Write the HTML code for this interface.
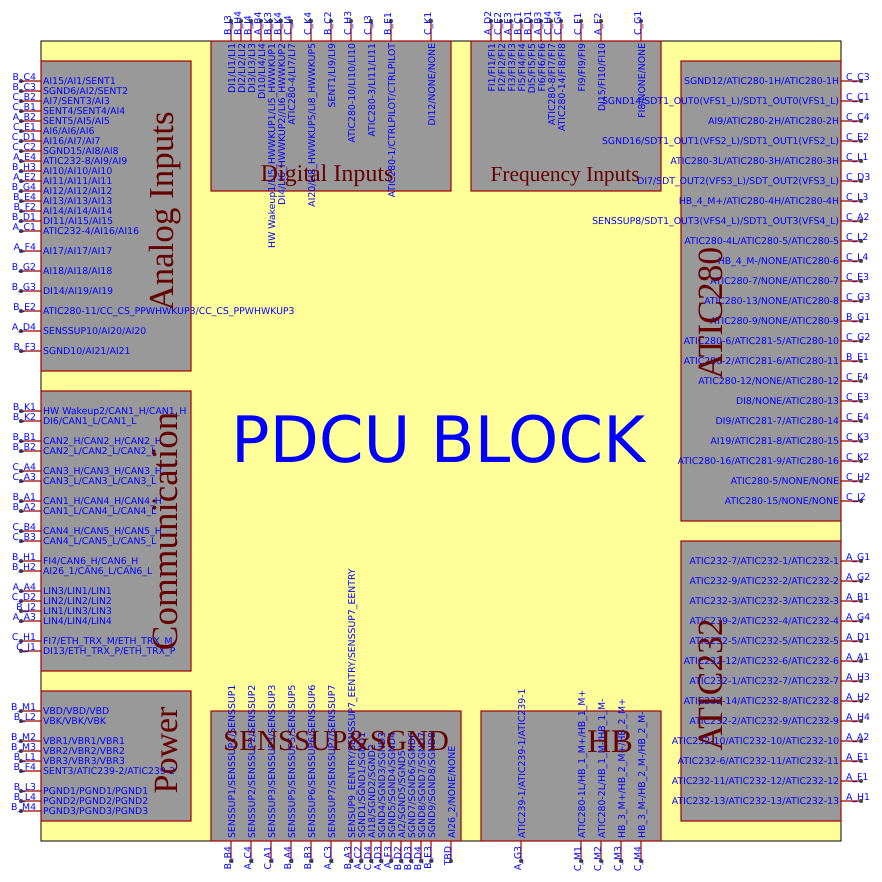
<!DOCTYPE html>
<html>
<head>
<meta charset="utf-8">
<style>
html,body{margin:0;padding:0;background:#fff;width:882px;height:882px;overflow:hidden}
svg{display:block}
.b{fill:#999;stroke:#a00000;stroke-width:1.2}
.w{stroke:#990000;stroke-width:1.2}
.d{fill:#444}
text{font-family:"DejaVu Sans",sans-serif;font-size:9.33px;fill:#0000ff;text-rendering:geometricPrecision}
.l text{text-anchor:end}
.big{font-family:"Liberation Serif",serif;fill:#660000;text-anchor:middle}
</style>
</head>
<body>
<svg width="882" height="882" viewBox="0 0 882 882" xmlns="http://www.w3.org/2000/svg">
<rect x="41" y="41" width="800" height="800" fill="#ffff99" stroke="#000" stroke-width="1"/>
<rect class="b" x="41" y="61" width="150" height="310"/>
<rect class="b" x="41" y="391" width="150" height="280"/>
<rect class="b" x="41" y="691" width="150" height="130"/>
<rect class="b" x="211" y="41" width="240" height="150"/>
<rect class="b" x="471" y="41" width="190" height="150"/>
<rect class="b" x="681" y="61" width="160" height="460"/>
<rect class="b" x="681" y="541" width="160" height="280"/>
<rect class="b" x="211" y="711" width="250" height="130"/>
<rect class="b" x="481" y="711" width="180" height="130"/>

<path class="w" fill="none" d="M21 81H41M21 91H41M21 101H41M21 111H41M21 121H41M21 131H41M21 141H41M21 151H41M21 161H41M21 171H41M21 181H41M21 191H41M21 201H41M21 211H41M21 221H41M21 231H41M21 251H41M21 271H41M21 291H41M21 311H41M21 331H41M21 351H41
M21 411H41M21 421H41M21 441H41M21 451H41M21 471H41M21 481H41M21 501H41M21 511H41M21 531H41M21 541H41M21 561H41M21 571H41M21 591H41M21 601H41M21 611H41M21 621H41M21 641H41M21 651H41
M21 711H41M21 721H41M21 741H41M21 751H41M21 761H41M21 771H41M21 791H41M21 801H41M21 811H41
M841 81H861M841 101H861M841 121H861M841 141H861M841 161H861M841 181H861M841 201H861M841 221H861M841 241H861M841 261H861M841 281H861M841 301H861M841 321H861M841 341H861M841 361H861M841 381H861M841 401H861M841 421H861M841 441H861M841 461H861M841 481H861M841 501H861
M841 561H861M841 581H861M841 601H861M841 621H861M841 641H861M841 661H861M841 681H861M841 701H861M841 721H861M841 741H861M841 761H861M841 781H861M841 801H861
M231 21V41M241 21V41M251 21V41M261 21V41M271 21V41M281 21V41M291 21V41M311 21V41M331 21V41M351 21V41M371 21V41M391 21V41M431 21V41
M491 21V41M501 21V41M511 21V41M521 21V41M531 21V41M541 21V41M551 21V41M561 21V41M581 21V41M601 21V41M641 21V41
M231 841V861M251 841V861M271 841V861M291 841V861M311 841V861M331 841V861M351 841V861M361 841V861M371 841V861M381 841V861M391 841V861M401 841V861M411 841V861M421 841V861M431 841V861M451 841V861
M521 841V861M581 841V861M601 841V861M621 841V861M641 841V861"/>

<g class="d">
<circle cx="21" cy="81" r="2"/><circle cx="21" cy="91" r="2"/><circle cx="21" cy="101" r="2"/><circle cx="21" cy="111" r="2"/><circle cx="21" cy="121" r="2"/><circle cx="21" cy="131" r="2"/><circle cx="21" cy="141" r="2"/><circle cx="21" cy="151" r="2"/><circle cx="21" cy="161" r="2"/><circle cx="21" cy="171" r="2"/><circle cx="21" cy="181" r="2"/><circle cx="21" cy="191" r="2"/><circle cx="21" cy="201" r="2"/><circle cx="21" cy="211" r="2"/><circle cx="21" cy="221" r="2"/><circle cx="21" cy="231" r="2"/><circle cx="21" cy="251" r="2"/><circle cx="21" cy="271" r="2"/><circle cx="21" cy="291" r="2"/><circle cx="21" cy="311" r="2"/><circle cx="21" cy="331" r="2"/><circle cx="21" cy="351" r="2"/>
<circle cx="21" cy="411" r="2"/><circle cx="21" cy="421" r="2"/><circle cx="21" cy="441" r="2"/><circle cx="21" cy="451" r="2"/><circle cx="21" cy="471" r="2"/><circle cx="21" cy="481" r="2"/><circle cx="21" cy="501" r="2"/><circle cx="21" cy="511" r="2"/><circle cx="21" cy="531" r="2"/><circle cx="21" cy="541" r="2"/><circle cx="21" cy="561" r="2"/><circle cx="21" cy="571" r="2"/><circle cx="21" cy="591" r="2"/><circle cx="21" cy="601" r="2"/><circle cx="21" cy="611" r="2"/><circle cx="21" cy="621" r="2"/><circle cx="21" cy="641" r="2"/><circle cx="21" cy="651" r="2"/>
<circle cx="21" cy="711" r="2"/><circle cx="21" cy="721" r="2"/><circle cx="21" cy="741" r="2"/><circle cx="21" cy="751" r="2"/><circle cx="21" cy="761" r="2"/><circle cx="21" cy="771" r="2"/><circle cx="21" cy="791" r="2"/><circle cx="21" cy="801" r="2"/><circle cx="21" cy="811" r="2"/>
<circle cx="861" cy="81" r="2"/><circle cx="861" cy="101" r="2"/><circle cx="861" cy="121" r="2"/><circle cx="861" cy="141" r="2"/><circle cx="861" cy="161" r="2"/><circle cx="861" cy="181" r="2"/><circle cx="861" cy="201" r="2"/><circle cx="861" cy="221" r="2"/><circle cx="861" cy="241" r="2"/><circle cx="861" cy="261" r="2"/><circle cx="861" cy="281" r="2"/><circle cx="861" cy="301" r="2"/><circle cx="861" cy="321" r="2"/><circle cx="861" cy="341" r="2"/><circle cx="861" cy="361" r="2"/><circle cx="861" cy="381" r="2"/><circle cx="861" cy="401" r="2"/><circle cx="861" cy="421" r="2"/><circle cx="861" cy="441" r="2"/><circle cx="861" cy="461" r="2"/><circle cx="861" cy="481" r="2"/><circle cx="861" cy="501" r="2"/>
<circle cx="861" cy="561" r="2"/><circle cx="861" cy="581" r="2"/><circle cx="861" cy="601" r="2"/><circle cx="861" cy="621" r="2"/><circle cx="861" cy="641" r="2"/><circle cx="861" cy="661" r="2"/><circle cx="861" cy="681" r="2"/><circle cx="861" cy="701" r="2"/><circle cx="861" cy="721" r="2"/><circle cx="861" cy="741" r="2"/><circle cx="861" cy="761" r="2"/><circle cx="861" cy="781" r="2"/><circle cx="861" cy="801" r="2"/>
<circle cx="231" cy="21" r="2"/><circle cx="241" cy="21" r="2"/><circle cx="251" cy="21" r="2"/><circle cx="261" cy="21" r="2"/><circle cx="271" cy="21" r="2"/><circle cx="281" cy="21" r="2"/><circle cx="291" cy="21" r="2"/><circle cx="311" cy="21" r="2"/><circle cx="331" cy="21" r="2"/><circle cx="351" cy="21" r="2"/><circle cx="371" cy="21" r="2"/><circle cx="391" cy="21" r="2"/><circle cx="431" cy="21" r="2"/>
<circle cx="491" cy="21" r="2"/><circle cx="501" cy="21" r="2"/><circle cx="511" cy="21" r="2"/><circle cx="521" cy="21" r="2"/><circle cx="531" cy="21" r="2"/><circle cx="541" cy="21" r="2"/><circle cx="551" cy="21" r="2"/><circle cx="561" cy="21" r="2"/><circle cx="581" cy="21" r="2"/><circle cx="601" cy="21" r="2"/><circle cx="641" cy="21" r="2"/>
<circle cx="231" cy="861" r="2"/><circle cx="251" cy="861" r="2"/><circle cx="271" cy="861" r="2"/><circle cx="291" cy="861" r="2"/><circle cx="311" cy="861" r="2"/><circle cx="331" cy="861" r="2"/><circle cx="351" cy="861" r="2"/><circle cx="361" cy="861" r="2"/><circle cx="371" cy="861" r="2"/><circle cx="381" cy="861" r="2"/><circle cx="391" cy="861" r="2"/><circle cx="401" cy="861" r="2"/><circle cx="411" cy="861" r="2"/><circle cx="421" cy="861" r="2"/><circle cx="431" cy="861" r="2"/><circle cx="451" cy="861" r="2"/>
<circle cx="521" cy="861" r="2"/><circle cx="581" cy="861" r="2"/><circle cx="601" cy="861" r="2"/><circle cx="621" cy="861" r="2"/><circle cx="641" cy="861" r="2"/>
</g>
<circle cx="154" cy="451" r="1.5" fill="#660000"/><circle cx="154" cy="501" r="1.5" fill="#660000"/>

<!-- left outer labels -->
<g class="l">
<text x="36" y="80">B_C4</text><text x="36" y="90">B_C3</text><text x="36" y="100">C_B2</text><text x="36" y="110">C_B1</text><text x="36" y="120">A_B2</text><text x="36" y="130">C_E1</text><text x="36" y="140">C_D1</text><text x="36" y="150">C_C2</text><text x="36" y="160">A_E4</text><text x="36" y="170">B_H3</text><text x="36" y="180">A_E2</text><text x="36" y="190">B_G4</text><text x="36" y="200">B_E4</text><text x="36" y="210">B_F2</text><text x="36" y="220">B_D1</text><text x="36" y="230">A_C1</text><text x="36" y="250">A_F4</text><text x="36" y="270">B_G2</text><text x="36" y="290">B_G3</text><text x="36" y="310">B_E2</text><text x="36" y="330">A_D4</text><text x="36" y="350">B_F3</text>
<text x="36" y="410">B_K1</text><text x="36" y="420">B_K2</text><text x="36" y="440">B_B1</text><text x="36" y="450">B_B2</text><text x="36" y="470">C_A4</text><text x="36" y="480">C_A3</text><text x="36" y="500">B_A1</text><text x="36" y="510">B_A2</text><text x="36" y="530">C_B4</text><text x="36" y="540">C_B3</text><text x="36" y="560">B_H1</text><text x="36" y="570">B_H2</text><text x="36" y="590">A_A4</text><text x="36" y="600">C_D2</text><text x="36" y="610">B_J2</text><text x="36" y="620">A_A3</text><text x="36" y="640">C_H1</text><text x="36" y="650">C_J1</text>
<text x="36" y="710">B_M1</text><text x="36" y="720">B_L2</text><text x="36" y="740">B_M2</text><text x="36" y="750">B_M3</text><text x="36" y="760">B_L1</text><text x="36" y="770">B_F4</text><text x="36" y="790">B_L3</text><text x="36" y="800">B_L4</text><text x="36" y="810">B_M4</text>
</g>

<!-- left inner labels -->
<g>
<text x="43" y="84">AI15/AI1/SENT1</text><text x="43" y="94">SGND6/AI2/SENT2</text><text x="43" y="104">AI7/SENT3/AI3</text><text x="43" y="114">SENT4/SENT4/AI4</text><text x="43" y="124">SENT5/AI5/AI5</text><text x="43" y="134">AI6/AI6/AI6</text><text x="43" y="144">AI16/AI7/AI7</text><text x="43" y="154">SGND15/AI8/AI8</text><text x="43" y="164">ATIC232-8/AI9/AI9</text><text x="43" y="174">AI10/AI10/AI10</text><text x="43" y="184">AI11/AI11/AI11</text><text x="43" y="194">AI12/AI12/AI12</text><text x="43" y="204">AI13/AI13/AI13</text><text x="43" y="214">AI14/AI14/AI14</text><text x="43" y="224">DI11/AI15/AI15</text><text x="43" y="234">ATIC232-4/AI16/AI16</text><text x="43" y="254">AI17/AI17/AI17</text><text x="43" y="274">AI18/AI18/AI18</text><text x="43" y="294">DI14/AI19/AI19</text><text x="43" y="314">ATIC280-11/CC_CS_PPWHWKUP3/CC_CS_PPWHWKUP3</text><text x="43" y="334">SENSSUP10/AI20/AI20</text><text x="43" y="354">SGND10/AI21/AI21</text>
<text x="43" y="414">HW Wakeup2/CAN1_H/CAN1_H</text><text x="43" y="424">DI6/CAN1_L/CAN1_L</text><text x="43" y="444">CAN2_H/CAN2_H/CAN2_H</text><text x="43" y="454">CAN2_L/CAN2_L/CAN2_L</text><text x="43" y="474">CAN3_H/CAN3_H/CAN3_H</text><text x="43" y="484">CAN3_L/CAN3_L/CAN3_L</text><text x="43" y="504">CAN1_H/CAN4_H/CAN4_H</text><text x="43" y="514">CAN1_L/CAN4_L/CAN4_L</text><text x="43" y="534">CAN4_H/CAN5_H/CAN5_H</text><text x="43" y="544">CAN4_L/CAN5_L/CAN5_L</text><text x="43" y="564">FI4/CAN6_H/CAN6_H</text><text x="43" y="574">AI26_1/CAN6_L/CAN6_L</text><text x="43" y="594">LIN3/LIN1/LIN1</text><text x="43" y="604">LIN2/LIN2/LIN2</text><text x="43" y="614">LIN1/LIN3/LIN3</text><text x="43" y="624">LIN4/LIN4/LIN4</text><text x="43" y="644">FI7/ETH_TRX_M/ETH_TRX_M</text><text x="43" y="654">DI13/ETH_TRX_P/ETH_TRX_P</text>
<text x="43" y="714">VBD/VBD/VBD</text><text x="43" y="724">VBK/VBK/VBK</text><text x="43" y="744">VBR1/VBR1/VBR1</text><text x="43" y="754">VBR2/VBR2/VBR2</text><text x="43" y="764">VBR3/VBR3/VBR3</text><text x="43" y="774">SENT3/ATIC239-2/ATIC239-2</text><text x="43" y="794">PGND1/PGND1/PGND1</text><text x="43" y="804">PGND2/PGND2/PGND2</text><text x="43" y="814">PGND3/PGND3/PGND3</text>
</g>

<!-- right outer labels -->
<g>
<text x="846" y="80">C_C3</text><text x="846" y="100">C_C1</text><text x="846" y="120">C_C4</text><text x="846" y="140">C_E2</text><text x="846" y="160">C_L1</text><text x="846" y="180">C_D3</text><text x="846" y="200">C_L3</text><text x="846" y="220">C_A2</text><text x="846" y="240">C_L2</text><text x="846" y="260">C_L4</text><text x="846" y="280">C_E3</text><text x="846" y="300">C_G3</text><text x="846" y="320">B_G1</text><text x="846" y="340">C_G2</text><text x="846" y="360">B_E1</text><text x="846" y="380">C_F4</text><text x="846" y="400">C_E3</text><text x="846" y="420">C_E4</text><text x="846" y="440">C_K3</text><text x="846" y="460">C_K2</text><text x="846" y="480">C_H2</text><text x="846" y="500">C_J2</text>
<text x="846" y="560">A_G1</text><text x="846" y="580">A_G2</text><text x="846" y="600">A_B1</text><text x="846" y="620">A_G4</text><text x="846" y="640">A_D1</text><text x="846" y="660">A_A1</text><text x="846" y="680">A_H3</text><text x="846" y="700">A_H2</text><text x="846" y="720">A_H4</text><text x="846" y="740">A_A2</text><text x="846" y="760">A_E1</text><text x="846" y="780">A_F1</text><text x="846" y="800">A_H1</text>
</g>

<!-- right inner labels -->
<g class="l">
<text x="839" y="84">SGND12/ATIC280-1H/ATIC280-1H</text><text x="839" y="104">SGND14/SDT1_OUT0(VFS1_L)/SDT1_OUT0(VFS1_L)</text><text x="839" y="124">AI9/ATIC280-2H/ATIC280-2H</text><text x="839" y="144">SGND16/SDT1_OUT1(VFS2_L)/SDT1_OUT1(VFS2_L)</text><text x="839" y="164">ATIC280-3L/ATIC280-3H/ATIC280-3H</text><text x="839" y="184">DI7/SDT_OUT2(VFS3_L)/SDT_OUT2(VFS3_L)</text><text x="839" y="204">HB_4_M+/ATIC280-4H/ATIC280-4H</text><text x="839" y="224">SENSSUP8/SDT1_OUT3(VFS4_L)/SDT1_OUT3(VFS4_L)</text><text x="839" y="244">ATIC280-4L/ATIC280-5/ATIC280-5</text><text x="839" y="264">HB_4_M-/NONE/ATIC280-6</text><text x="839" y="284">ATIC280-7/NONE/ATIC280-7</text><text x="839" y="304">ATIC280-13/NONE/ATIC280-8</text><text x="839" y="324">ATIC280-9/NONE/ATIC280-9</text><text x="839" y="344">ATIC280-6/ATIC281-5/ATIC280-10</text><text x="839" y="364">ATIC280-2/ATIC281-6/ATIC280-11</text><text x="839" y="384">ATIC280-12/NONE/ATIC280-12</text><text x="839" y="404">DI8/NONE/ATIC280-13</text><text x="839" y="424">DI9/ATIC281-7/ATIC280-14</text><text x="839" y="444">AI19/ATIC281-8/ATIC280-15</text><text x="839" y="464">ATIC280-16/ATIC281-9/ATIC280-16</text><text x="839" y="484">ATIC280-5/NONE/NONE</text><text x="839" y="504">ATIC280-15/NONE/NONE</text>
<text x="839" y="564">ATIC232-7/ATIC232-1/ATIC232-1</text><text x="839" y="584">ATIC232-9/ATIC232-2/ATIC232-2</text><text x="839" y="604">ATIC232-3/ATIC232-3/ATIC232-3</text><text x="839" y="624">ATIC239-2/ATIC232-4/ATIC232-4</text><text x="839" y="644">ATIC232-5/ATIC232-5/ATIC232-5</text><text x="839" y="664">ATIC232-12/ATIC232-6/ATIC232-6</text><text x="839" y="684">ATIC232-1/ATIC232-7/ATIC232-7</text><text x="839" y="704">ATIC232-14/ATIC232-8/ATIC232-8</text><text x="839" y="724">ATIC232-2/ATIC232-9/ATIC232-9</text><text x="839" y="744">ATIC232-10/ATIC232-10/ATIC232-10</text><text x="839" y="764">ATIC232-6/ATIC232-11/ATIC232-11</text><text x="839" y="784">ATIC232-11/ATIC232-12/ATIC232-12</text><text x="839" y="804">ATIC232-13/ATIC232-13/ATIC232-13</text>
</g>

<!-- top labels -->
<g>
<text transform="translate(231,35) rotate(-90)">B_J3</text><text transform="translate(241,35) rotate(-90)">B_H4</text><text transform="translate(251,35) rotate(-90)">B_J4</text><text transform="translate(261,35) rotate(-90)">A_B4</text><text transform="translate(271,35) rotate(-90)">B_K3</text><text transform="translate(281,35) rotate(-90)">B_K4</text><text transform="translate(291,35) rotate(-90)">C_J4</text><text transform="translate(311,35) rotate(-90)">C_K4</text><text transform="translate(331,35) rotate(-90)">B_C2</text><text transform="translate(351,35) rotate(-90)">C_H3</text><text transform="translate(371,35) rotate(-90)">C_J3</text><text transform="translate(391,35) rotate(-90)">B_E1</text><text transform="translate(431,35) rotate(-90)">C_K1</text>
<text transform="translate(491,35) rotate(-90)">A_D2</text><text transform="translate(501,35) rotate(-90)">C_E2</text><text transform="translate(511,35) rotate(-90)">A_E3</text><text transform="translate(521,35) rotate(-90)">B_C1</text><text transform="translate(531,35) rotate(-90)">B_D1</text><text transform="translate(541,35) rotate(-90)">A_B3</text><text transform="translate(551,35) rotate(-90)">C_H4</text><text transform="translate(561,35) rotate(-90)">C_G4</text><text transform="translate(581,35) rotate(-90)">C_F1</text><text transform="translate(601,35) rotate(-90)">A_F2</text><text transform="translate(641,35) rotate(-90)">C_G1</text>
</g>
<g class="l">
<text transform="translate(235,43) rotate(-90)">DI1/LI1/LI1</text><text transform="translate(245,43) rotate(-90)">DI2/LI2/LI2</text><text transform="translate(255,43) rotate(-90)">DI3/LI3/LI3</text><text transform="translate(265,43) rotate(-90)">DI10/LI4/LI4</text><text transform="translate(275,43) rotate(-90)">HW Wakeup1/LI5_HWWKUP1/LI5_HWWKUP1</text><text transform="translate(285,43) rotate(-90)">DI4/LI6_HWWKUP2//LI6_HWWKUP2</text><text transform="translate(295,43) rotate(-90)">ATIC280-4/LI7/LI7</text><text transform="translate(315,43) rotate(-90)">AI20/LI8_HWWKUP5/LI8_HWWKUP5</text><text transform="translate(335,43) rotate(-90)">SENT1/LI9/LI9</text><text transform="translate(355,43) rotate(-90)">ATIC280-10/LI10/LI10</text><text transform="translate(375,43) rotate(-90)">ATIC280-3/LI11/LI11</text><text transform="translate(395,43) rotate(-90)">ATIC280-1/CTRLPILOT/CTRLPILOT</text><text transform="translate(435,43) rotate(-90)">DI12/NONE/NONE</text>
<text transform="translate(495,43) rotate(-90)">FI1/FI1/FI1</text><text transform="translate(505,43) rotate(-90)">FI2/FI2/FI2</text><text transform="translate(515,43) rotate(-90)">FI3/FI3/FI3</text><text transform="translate(525,43) rotate(-90)">FI5/FI4/FI4</text><text transform="translate(535,43) rotate(-90)">DI5/FI5/FI5</text><text transform="translate(545,43) rotate(-90)">FI6/FI6/FI6</text><text transform="translate(555,43) rotate(-90)">ATIC280-8/FI7/FI7</text><text transform="translate(565,43) rotate(-90)">ATIC280-14/FI8/FI8</text><text transform="translate(585,43) rotate(-90)">FI9/FI9/FI9</text><text transform="translate(605,43) rotate(-90)">DI15/FI10/FI10</text><text transform="translate(645,43) rotate(-90)">FI8/NONE/NONE</text>
</g>

<!-- bottom labels -->
<g class="l">
<text transform="translate(231,846) rotate(-90)">B_B4</text><text transform="translate(251,846) rotate(-90)">A_C4</text><text transform="translate(271,846) rotate(-90)">C_A1</text><text transform="translate(291,846) rotate(-90)">B_A4</text><text transform="translate(311,846) rotate(-90)">B_B3</text><text transform="translate(331,846) rotate(-90)">A_C3</text><text transform="translate(351,846) rotate(-90)">B_A3</text><text transform="translate(361,846) rotate(-90)">A_C2</text><text transform="translate(371,846) rotate(-90)">C_D4</text><text transform="translate(381,846) rotate(-90)">A_D3</text><text transform="translate(391,846) rotate(-90)">A_F3</text><text transform="translate(401,846) rotate(-90)">B_D2</text><text transform="translate(411,846) rotate(-90)">B_D3</text><text transform="translate(421,846) rotate(-90)">B_D4</text><text transform="translate(431,846) rotate(-90)">B_E3</text><text transform="translate(451,846) rotate(-90)">TBD</text>
<text transform="translate(521,846) rotate(-90)">A_G3</text><text transform="translate(581,846) rotate(-90)">C_M1</text><text transform="translate(601,846) rotate(-90)">C_M2</text><text transform="translate(621,846) rotate(-90)">C_M3</text><text transform="translate(641,846) rotate(-90)">C_M4</text>
</g>
<g>
<text transform="translate(235,838) rotate(-90)">SENSSUP1/SENSSUP1/SENSSUP1</text><text transform="translate(255,838) rotate(-90)">SENSSUP2/SENSSUP2/SENSSUP2</text><text transform="translate(275,838) rotate(-90)">SENSSUP3/SENSSUP3/SENSSUP3</text><text transform="translate(295,838) rotate(-90)">SENSSUP5/SENSSUP5/SENSSUP5</text><text transform="translate(315,838) rotate(-90)">SENSSUP6/SENSSUP6/SENSSUP6</text><text transform="translate(335,838) rotate(-90)">SENSSUP7/SENSSUP7/SENSSUP7</text><text transform="translate(355,838) rotate(-90)">SENSUP9_EENTRY/SENSSUP7_EENTRY/SENSSUP7_EENTRY</text><text transform="translate(365,838) rotate(-90)">SGND1/SGND1/SGND1</text><text transform="translate(375,838) rotate(-90)">AI18/SGND2/SGND2</text><text transform="translate(385,838) rotate(-90)">SGND4/SGND3/SGND3</text><text transform="translate(395,838) rotate(-90)">SGND5/SGND4/SGND4</text><text transform="translate(405,838) rotate(-90)">AI2/SGND5/SGND5</text><text transform="translate(415,838) rotate(-90)">SGND7/SGND6/SGND6</text><text transform="translate(425,838) rotate(-90)">SGND8/SGND7/SGND7</text><text transform="translate(435,838) rotate(-90)">SGND9/SGND8/SGND8</text><text transform="translate(455,838) rotate(-90)">AI26_2/NONE/NONE</text>
<text transform="translate(525,838) rotate(-90)">ATIC239-1/ATIC239-1/ATIC239-1</text><text transform="translate(585,838) rotate(-90)">ATIC280-1L/HB_1_M+/HB_1_M+</text><text transform="translate(605,838) rotate(-90)">ATIC280-2L/HB_1_M-/HB_1_M-</text><text transform="translate(625,838) rotate(-90)">HB_3_M+/HB_2_M+/HB_2_M+</text><text transform="translate(645,838) rotate(-90)">HB_3_M-/HB_2_M-/HB_2_M-</text>
</g>

<!-- titles -->
<text x="438" y="462" style="font-size:64px;text-anchor:middle">PDCU BLOCK</text>
<text class="big" transform="translate(173,211) rotate(-90)" style="font-size:35px">Analog Inputs</text>
<text class="big" transform="translate(177,531) rotate(-90)" style="font-size:37px">Communication</text>
<text class="big" transform="translate(177,750) rotate(-90)" style="font-size:34px">Power</text>
<text class="big" x="327" y="181" style="font-size:24px">Digital Inputs</text>
<text class="big" x="565" y="181" style="font-size:21.4px">Frequency Inputs</text>
<text class="big" x="336" y="750" style="font-size:29px">SENSSUP&amp;SGND</text>
<text class="big" x="610" y="752" style="font-size:33px">HB</text>
<text class="big" transform="translate(722,313) rotate(-90)" style="font-size:35.5px">ATIC280</text>
<text class="big" transform="translate(722,684.5) rotate(-90)" style="font-size:35.5px">ATIC232</text>
</svg>
</body>
</html>
